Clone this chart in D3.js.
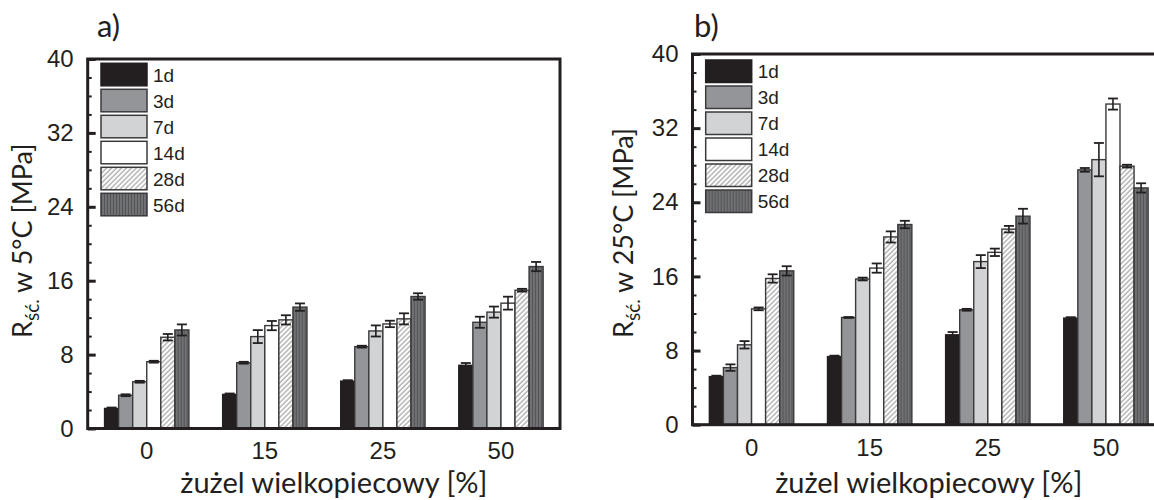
<!DOCTYPE html>
<html>
<head>
<meta charset="utf-8">
<script src="https://cdn.jsdelivr.net/npm/d3@7"></script>
<style>
body { margin: 0; background: #fff; }
</style>
</head>
<body>
<svg id="chart" width="1154" height="500"></svg>
<script>
// Dane
const categories = ["0", "15", "25", "50"];
const series = ["1d", "3d", "7d", "14d", "28d", "56d"];
const yTicks = [0, 8, 16, 24, 32, 40];
const yMinorTicks = [2, 4, 6, 10, 12, 14, 18, 20, 22, 26, 28, 30, 34, 36, 38];

// a) 5°C
const valuesA = [
    [2.17, 3.6, 5.06, 7.23, 9.88, 10.67],
    [3.69, 7.12, 9.95, 11.14, 11.76, 13.14],
    [5.13, 8.86, 10.56, 11.32, 11.87, 14.29],
    [6.84, 11.5, 12.6, 13.57, 14.97, 17.53]
];
const errorsA = [
    [0.1, 0.1, 0.1, 0.1, 0.35, 0.6],
    [0.1, 0.1, 0.7, 0.5, 0.5, 0.4],
    [0.1, 0.1, 0.6, 0.35, 0.6, 0.35],
    [0.25, 0.6, 0.6, 0.7, 0.15, 0.5]
];

// b) 25°C
const valuesB = [
    [5.19, 6.16, 8.62, 12.5, 15.78, 16.6],
    [7.35, 11.57, 15.72, 16.9, 20.26, 21.6],
    [9.7, 12.4, 17.6, 18.6, 21.1, 22.5],
    [11.5, 27.5, 28.6, 34.6, 27.9, 25.55]
];
const errorsB = [
    [0.1, 0.35, 0.4, 0.15, 0.45, 0.5],
    [0.1, 0.05, 0.15, 0.5, 0.6, 0.4],
    [0.3, 0.1, 0.7, 0.4, 0.35, 0.8],
    [0.1, 0.2, 1.8, 0.6, 0.15, 0.5]
];

const fills = ["#231f20", "#939598", "#d1d3d4", "#ffffff", "url(#hatch28)", "url(#stripe56)"];
const ink = "#231f20";

const svg = d3.select("#chart");
const defs = svg.append("defs");

// wzór 28d: drobne ukośne kreski
const hatch = defs.append("pattern")
    .attr("id", "hatch28")
    .attr("width", 3.5).attr("height", 3.5)
    .attr("patternUnits", "userSpaceOnUse")
    .attr("patternTransform", "rotate(45)");
hatch.append("rect").attr("width", 3.5).attr("height", 3.5).attr("fill", "#ffffff");
hatch.append("line").attr("x1", 1).attr("y1", 0).attr("x2", 1).attr("y2", 3.5)
    .attr("stroke", "#9a9a9a").attr("stroke-width", 1.1);

// wzór 56d: pionowe paski
const stripe = defs.append("pattern")
    .attr("id", "stripe56")
    .attr("width", 3).attr("height", 3)
    .attr("patternUnits", "userSpaceOnUse");
stripe.append("rect").attr("width", 3).attr("height", 3).attr("fill", "#707174");
stripe.append("line").attr("x1", 0.5).attr("y1", 0).attr("x2", 0.5).attr("y2", 3)
    .attr("stroke", "#545456").attr("stroke-width", 1);

function drawPanel(p) {
    const g = svg.append("g");

    const y = d3.scaleLinear().domain([0, 40]).range([p.bottom, p.top]);
    const x0 = d3.scaleBand().domain(categories).range([p.left, p.right]);
    const x1 = d3.scaleBand().domain(series).range([0, x0.bandwidth()]).paddingOuter(1.2);

    const groups = g.selectAll(".grp")
        .data(p.values)
        .enter()
        .append("g")
        .attr("class", "grp")
        .attr("transform", (d, i) => `translate(${x0(categories[i])},0)`);

    const items = groups.selectAll(".item")
        .data((d, i) => d.map((v, j) => ({ v: v, e: p.errors[i][j], j: j })))
        .enter()
        .append("g")
        .attr("class", "item");

    items.append("rect")
        .attr("x", d => x1(series[d.j]))
        .attr("y", d => y(d.v))
        .attr("width", x1.bandwidth())
        .attr("height", d => y(0) - y(d.v))
        .attr("fill", d => fills[d.j])
        .attr("stroke", d => d.j === 0 ? ink : "#3a3a3c")
        .attr("stroke-width", 1.4);

    // słupki błędów
    const cx = d => x1(series[d.j]) + x1.bandwidth() / 2;
    items.append("line")
        .attr("x1", cx).attr("x2", cx)
        .attr("y1", d => y(d.v - d.e)).attr("y2", d => y(d.v + d.e))
        .attr("stroke", ink).attr("stroke-width", 1.6);
    items.append("line")
        .attr("x1", d => cx(d) - 5).attr("x2", d => cx(d) + 5)
        .attr("y1", d => y(d.v + d.e)).attr("y2", d => y(d.v + d.e))
        .attr("stroke", ink).attr("stroke-width", 1.8);
    items.append("line")
        .attr("x1", d => cx(d) - 5).attr("x2", d => cx(d) + 5)
        .attr("y1", d => y(d.v - d.e)).attr("y2", d => y(d.v - d.e))
        .attr("stroke", ink).attr("stroke-width", 1.8);

    // ramka
    g.append("rect")
        .attr("x", p.left).attr("y", p.top)
        .attr("width", p.right - p.left).attr("height", p.bottom - p.top)
        .attr("fill", "none").attr("stroke", ink).attr("stroke-width", 3);

    // oś Y
    const yAxis = g.append("g")
        .attr("transform", `translate(${p.left},0)`)
        .call(d3.axisLeft(y).tickValues(yTicks).tickSize(-8).tickPadding(14));
    yAxis.select(".domain").remove();
    yAxis.selectAll("line").attr("stroke", ink).attr("stroke-width", 3);
    yAxis.selectAll("text")
        .attr("fill", ink)
        .style("font-family", "'Liberation Sans', Arial, sans-serif")
        .style("font-size", "24px");

    const yMinor = g.append("g")
        .attr("transform", `translate(${p.left},0)`)
        .call(d3.axisLeft(y).tickValues(yMinorTicks).tickSize(-4).tickFormat(""));
    yMinor.select(".domain").remove();
    yMinor.selectAll("line").attr("stroke", ink).attr("stroke-width", 2);

    // oś X
    const xAxis = g.append("g")
        .attr("transform", `translate(0,${p.bottom})`)
        .call(d3.axisBottom(x0).tickSize(0).tickPadding(p.xPad));
    xAxis.select(".domain").remove();
    xAxis.selectAll("text")
        .attr("fill", ink)
        .style("font-family", "'Liberation Sans', Arial, sans-serif")
        .style("font-size", "24px");

    // legenda
    const leg = g.selectAll(".leg")
        .data(series)
        .enter()
        .append("g")
        .attr("class", "leg")
        .attr("transform", (d, i) => `translate(${p.legX},${p.legY + i * 26})`);
    leg.append("rect")
        .attr("width", 46).attr("height", 22.5)
        .attr("fill", (d, i) => fills[i])
        .attr("stroke", (d, i) => i === 0 ? ink : "#3a3a3c")
        .attr("stroke-width", 1.5);
    leg.append("text")
        .attr("x", 52).attr("y", 18.4)
        .attr("fill", ink)
        .style("font-family", "'Liberation Sans', Arial, sans-serif")
        .style("font-size", "19px")
        .text(d => d);

    // tytuł osi X
    g.append("text")
        .attr("x", (p.left + p.right) / 2 + p.titleDx)
        .attr("y", 493)
        .attr("text-anchor", "middle")
        .attr("fill", ink)
        .style("font-family", "Lato, 'Open Sans', sans-serif")
        .style("font-size", "29px")
        .text("żużel wielkopiecowy [%]");

    // tytuł osi Y
    const yl = g.append("text")
        .attr("transform", `translate(${p.yLabelX},338) rotate(-90)`)
        .attr("fill", ink)
        .style("font-family", "Lato, 'Open Sans', sans-serif")
        .style("font-size", "27px");
    yl.append("tspan").text("R");
    yl.append("tspan").attr("dy", 7).style("font-size", "19px").text("ść.");
    yl.append("tspan").attr("dy", -7).text(" w " + p.temp + " [MPa]");

    // oznaczenie panelu
    g.append("text")
        .attr("x", p.tagX).attr("y", 37)
        .attr("fill", ink)
        .style("font-family", "Lato, 'Open Sans', sans-serif")
        .style("font-size", "31px")
        .text(p.tag);
}

drawPanel({
    left: 87.7, right: 560, top: 59, bottom: 428.5,
    values: valuesA, errors: errorsA,
    legX: 101, legY: 63.3, xPad: 13.5,
    titleDx: 10, yLabelX: 32,
    temp: "5°C", tag: "a)", tagX: 97
});

drawPanel({
    left: 692.5, right: 1165, top: 54, bottom: 424.7,
    values: valuesB, errors: errorsB,
    legX: 705.7, legY: 60, xPad: 14,
    titleDx: 0, yLabelX: 633,
    temp: "25°C", tag: "b)", tagX: 694
});
</script>
</body>
</html>
